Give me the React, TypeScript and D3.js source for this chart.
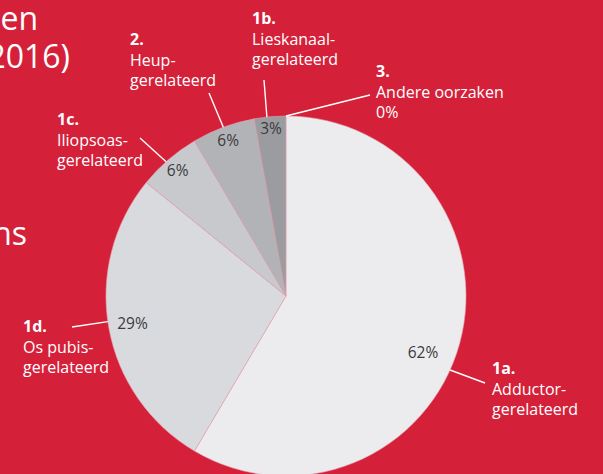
import React from "react";
import * as d3 from "d3";

const categories = ["1a.", "1d.", "1c.", "2.", "1b.", "3."];
const categoryNames = [
  ["Adductor-", "gerelateerd"],
  ["Os pubis-", "gerelateerd"],
  ["Iliopsoas-", "gerelateerd"],
  ["Heup-", "gerelateerd"],
  ["Lieskanaal-", "gerelateerd"],
  ["Andere oorzaken", "0%"],
];
const values = [62, 29, 6, 6, 3, 0];
const valueLabels = ["62%", "29%", "6%", "6%", "3%", ""];

// layout configuration (not data)
const W = 603, H = 474;
const CX = 286, CY = 296, R = 180;
const colors = ["#ECECEE", "#D9DADD", "#C8C9CC", "#B2B3B6", "#9B9C9F", "#9B9C9F"];
const labelPos = [
  { x: 492, y: 374, lx: 485, ly: 383, angOff: 9 },
  { x: 23, y: 332, lx: 72, ly: 327, angOff: 2 },
  { x: 57, y: 125, lx: 140, ly: 138, angOff: -1 },
  { x: 130, y: 45, lx: 209, ly: 93, angOff: 0 },
  { x: 252, y: 24, lx: 264, ly: 80, angOff: -1 },
  { x: 376, y: 77, lx: 370, ly: 95, angOff: 0 },
];
const valueLabelRadius = [148, 156, 166, 166, 168, 0];
const valueLabelAngOff = [7, 0, 0, 0, 0, 0];

const FONT = "'Open Sans', 'Noto Sans', sans-serif";
const BG = "#D52039";

export default function App() {
  const pie = d3.pie<number>().sort(null).value((d) => d);
  const arcs = pie(values);
  const arc = d3.arc<d3.PieArcDatum<number>>().innerRadius(0).outerRadius(R);
  const deg = Math.PI / 180;
  const polar = (a: number, r: number) => [CX + r * Math.sin(a), CY - r * Math.cos(a)];

  return (
    <svg
      width={W}
      height={H}
      style={{ position: "absolute", left: 0, top: 0, display: "block" }}
      fontFamily={FONT}
    >
      <rect x={0} y={0} width={W} height={H} fill={BG} />
      <g fill="#fff" fontSize={32}>
        <text x={38} y={30} textAnchor="end">en</text>
        <text x={70} y={68} textAnchor="end">(2016)</text>
        <text x={27} y={245} textAnchor="end">ns</text>
      </g>
      <g transform={`translate(${CX},${CY})`}>
        {arcs.map((a, i) =>
          a.value > 0 ? (
            <path key={i} d={arc(a) || ""} fill={colors[i]} stroke="#E6A5B2" strokeWidth={0.6} />
          ) : null
        )}
      </g>
      {arcs.map((a, i) => {
        if (!valueLabels[i]) return null;
        const mid = (a.startAngle + a.endAngle) / 2 + valueLabelAngOff[i] * deg;
        const [x, y] = polar(mid, valueLabelRadius[i]);
        return (
          <text key={i} x={x} y={y + 5.5} textAnchor="middle" fontSize={15.5} fill="#3b3b3d">
            {valueLabels[i]}
          </text>
        );
      })}
      {arcs.map((a, i) => {
        const lp = labelPos[i];
        const mid = (a.startAngle + a.endAngle) / 2 + lp.angOff * deg;
        const [x0, y0] = polar(mid, R);
        return (
          <g key={i}>
            <line x1={x0} y1={y0} x2={lp.lx} y2={lp.ly} stroke="#fff" strokeWidth={1.4} />
            <text x={lp.x} y={lp.y} fill="#fff" fontSize={16} fontWeight={700}>
              {categories[i]}
            </text>
            <text x={lp.x} y={lp.y + 20.5} fill="#fff" fontSize={16}>
              {categoryNames[i][0]}
            </text>
            <text x={lp.x} y={lp.y + 40.5} fill="#fff" fontSize={16}>
              {categoryNames[i][1]}
            </text>
          </g>
        );
      })}
    </svg>
  );
}
